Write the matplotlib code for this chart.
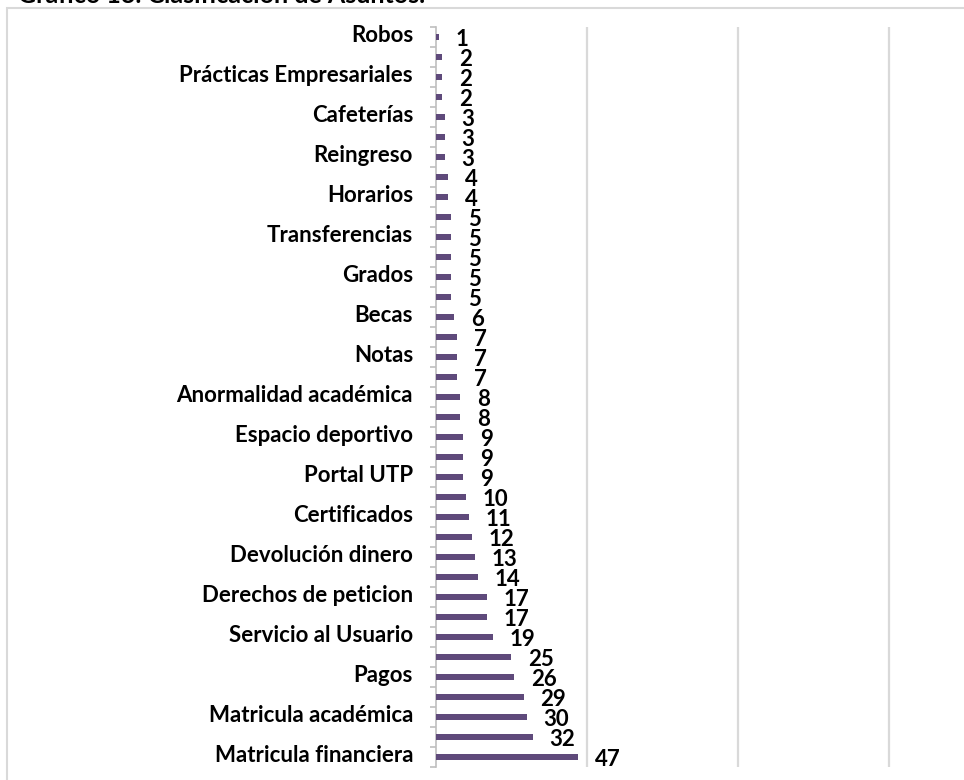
import matplotlib
matplotlib.use("Agg")
import matplotlib.pyplot as plt
import matplotlib.transforms as mtransforms
from matplotlib.patches import Rectangle

# Asuntos, de arriba hacia abajo; solo se rotula uno de cada dos
etiquetas = [
    "Robos", "Prácticas Empresariales", "Cafeterías", "Reingreso", "Horarios",
    "Transferencias", "Grados", "Becas", "Notas", "Anormalidad académica",
    "Espacio deportivo", "Portal UTP", "Certificados", "Devolución dinero",
    "Derechos de peticion", "Servicio al Usuario", "Pagos",
    "Matricula académica", "Matricula financiera",
]
valores = [1, 2, 2, 2, 3, 3, 3, 4, 4, 5, 5, 5, 5, 5, 6, 7, 7, 7, 8, 8, 9, 9, 9,
           10, 11, 12, 13, 14, 17, 17, 19, 25, 26, 29, 30, 32, 47]

color_barra = "#5f4a7b"
color_rejilla = "#d9d9d9"
fuente = "Lato"

fig = plt.figure(figsize=(9.64, 7.8), dpi=100)
W, H = 964, 780
ax = fig.add_axes([436 / W, 1 - 767 / H, (919 - 436) / W, (767 - 27) / H])

pos = list(range(len(valores)))
ax.barh(pos, valores, height=0.3, color=color_barra, zorder=3)

for i, v in zip(pos, valores):
    ax.annotate(str(v), xy=(v, i), xytext=(12, -2), textcoords="offset points",
                ha="left", va="center", fontsize=16, fontweight="bold",
                family=fuente, color="black")

ax.set_xlim(0, 160)
ax.set_ylim(len(valores) - 0.5, -0.5)
ax.set_xticks([50, 100, 150])
ax.tick_params(axis="x", length=0, labelbottom=False)
ax.grid(axis="x", color=color_rejilla, linewidth=1.6, zorder=0)

ax.set_yticks(pos[::2])
ax.set_yticklabels(etiquetas, fontsize=16, fontweight="bold", family=fuente)
ax.set_yticks([p - 0.5 for p in pos] + [len(valores) - 0.5], minor=True)
ax.tick_params(axis="y", which="major", length=0, pad=16.5)
ax.tick_params(axis="y", which="minor", length=4, color="#bfbfbf", width=1.2)

# las etiquetas de categoría quedan un poco por encima de su barra
subir = mtransforms.ScaledTranslation(0, 3 / 100, fig.dpi_scale_trans)
for lab in ax.get_yticklabels():
    lab.set_transform(lab.get_transform() + subir)

for s in ["top", "right", "bottom"]:
    ax.spines[s].set_visible(False)
ax.spines["left"].set_color("#bfbfbf")
ax.spines["left"].set_linewidth(1.2)

# marco del gráfico y título
fig.patches.append(Rectangle((7 / W, -0.1), 1.2, 1 - 8 / H + 0.1,
                             transform=fig.transFigure, fill=False,
                             ec=color_rejilla, lw=1.5))
fig.text(18 / W, 1 - 3 / H, "Gráfico 13. Clasificación de Asuntos.",
         ha="left", va="baseline", fontsize=18, fontweight="bold", family=fuente)

fig.savefig("out.png", dpi=100)
